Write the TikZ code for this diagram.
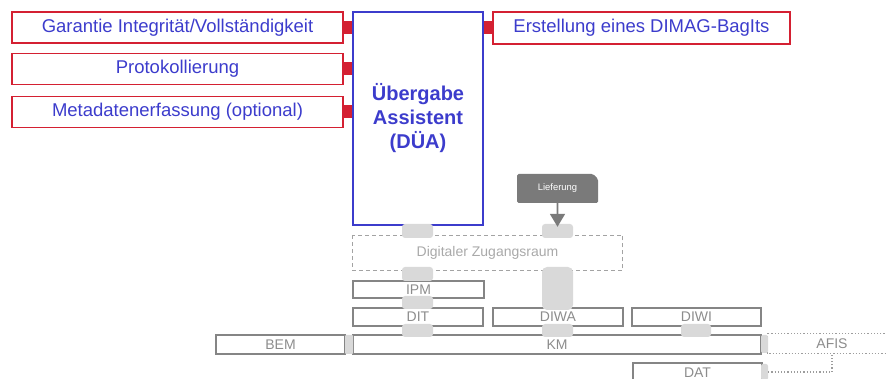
\documentclass[tikz,border=0pt]{standalone}
\usepackage{fontspec}
\setmainfont{Liberation Sans}
\usepackage{tikz}
\usetikzlibrary{shapes,arrows.meta}
\definecolor{duablue}{HTML}{3C3CCC}
\definecolor{duared}{HTML}{D42032}
\definecolor{tabgray}{HTML}{D9D9D9}
\definecolor{boxgray}{HTML}{858585}
\definecolor{txtgray}{HTML}{8C8C8C}
\definecolor{liefgray}{HTML}{7A7A7A}
\tikzset{redbox/.style={rectangle,draw=duared,line width=1.6pt,text=duablue,inner sep=0pt,minimum height=31pt,font=\fontsize{18.5}{22}\selectfont}}
\tikzset{bluebox/.style={rectangle,draw=duablue,line width=1.8pt,text=duablue,inner sep=0pt,align=center,font=\fontsize{20}{24}\selectfont\bfseries}}
\tikzset{graybox/.style={rectangle,draw=boxgray,line width=1.4pt,text=txtgray,inner sep=0pt,minimum height=18pt,font=\fontsize{14}{16}\selectfont}}
\tikzset{tab/.style={rectangle,fill=tabgray,rounded corners=3pt,inner sep=0pt}}
\tikzset{redlink/.style={duared,line width=13pt}}

\begin{document}
\begin{tikzpicture}[x=1pt,y=-1pt,>=stealth]
        \useasboundingbox (0,0) rectangle (887,379);
        \clip (0,0) rectangle (887,379);
        % red boxes round the assistant
        \node[redbox,minimum width=331pt] (gar) at (177.5,27.5) {Garantie Integrität/Vollständigkeit};
        \node[redbox,minimum width=331pt] (pro) at (177.5,69) {Protokollierung};
        \node[redbox,minimum width=331pt] (meta) at (177.5,112) {Metadatenerfassung (optional)};
        \node[redbox,minimum width=297pt,minimum height=32pt] (erst) at (641.5,28) {Erstellung eines DIMAG-BagIts};
        \node[bluebox,minimum width=130pt,minimum height=213pt] (dua) at (418,118.5) {Übergabe\\Assistent\\(DÜA)};

        \draw [redlink] (gar.east) to [] (gar.east -| dua.west);
        \draw [redlink] (pro.east) to [] (pro.east -| dua.west);
        \draw [redlink] (meta.east) to [] (meta.east -| dua.west);
        \draw [redlink] (erst.west) to [] (erst.west -| dua.east);

        % gray boxes
        \node[graybox,draw=none,minimum width=269pt,minimum height=34pt,text=txtgray!75] (zug) at (487.5,253) {Digitaler Zugangsraum};
        \draw [boxgray!75,line width=1.4pt,dash pattern=on 4pt off 3pt] (zug.north west) rectangle (zug.south east);
        \node[graybox,minimum width=131pt,minimum height=17pt] (ipm) at (418.5,289.5) {IPM};
        \node[graybox,minimum width=130pt] (dit) at (418,317) {DIT};
        \node[graybox,minimum width=130pt] (diwa) at (558,317) {DIWA};
        \node[graybox,minimum width=129pt] (diwi) at (696.5,317) {DIWI};
        \node[graybox,minimum width=408pt,minimum height=19pt] (km) at (557,344.5) {KM};
        \node[graybox,minimum width=129pt,minimum height=19pt] (bem) at (280.5,344.5) {BEM};
        \node[graybox,minimum width=129pt,minimum height=19pt] (dat) at (697.5,372.5) {DAT};
        \node[graybox,draw=none,minimum width=128pt,minimum height=19pt] (afis) at (832,343.5) {AFIS};
        \draw [boxgray!80,line width=1.2pt,dotted] (afis.north west) rectangle (afis.south east);
        \node[chamfered rectangle,chamfered rectangle corners=north east,chamfered rectangle xsep=2.5pt,chamfered rectangle ysep=2.5pt,rounded corners=1.5pt,fill=liefgray,text=white,inner sep=0pt,minimum width=81pt,minimum height=29pt,font=\fontsize{9.4}{11}\selectfont] (lief) at (557.5,188.5) {Lieferung};

        % tabs
        \node[tab,minimum width=31pt,minimum height=14pt] (t1) at (417.5,231) {};
        \node[tab,minimum width=31pt,minimum height=14pt] (t2) at (557.5,231) {};
        \node[tab,minimum width=31pt,minimum height=14pt] (t3) at (417.5,274) {};
        \node[tab,minimum width=31pt,minimum height=13pt] (t4) at (417.5,302.5) {};
        \node[tab,minimum width=31pt,minimum height=13pt] (t5) at (417.5,330.5) {};
        \node[tab,minimum width=31pt,minimum height=43pt,rounded corners=5pt] (t6) at (557.5,288.5) {};
        \node[tab,minimum width=31pt,minimum height=13pt] (t7) at (557.5,330.5) {};
        \node[tab,minimum width=30pt,minimum height=13pt] (t8) at (696,330.5) {};
        \node[tab,minimum width=8pt,minimum height=19pt,rounded corners=1pt] (t9) at (349,344.5) {};
        \node[tab,minimum width=7pt,minimum height=18pt,rounded corners=2pt] (t10) at (764.5,344) {};
        \node[tab,minimum width=7pt,minimum height=16pt,rounded corners=2pt] (t11) at (764.5,372) {};

        \draw [->,liefgray,line width=1.8pt,-{Triangle[width=15pt,length=13pt]},shorten >=-3pt] (lief) to [] (t2);
        \draw [boxgray!80,line width=1.2pt,dotted] (t11.east) -| (afis.south);
    \end{tikzpicture}
\end{document}
